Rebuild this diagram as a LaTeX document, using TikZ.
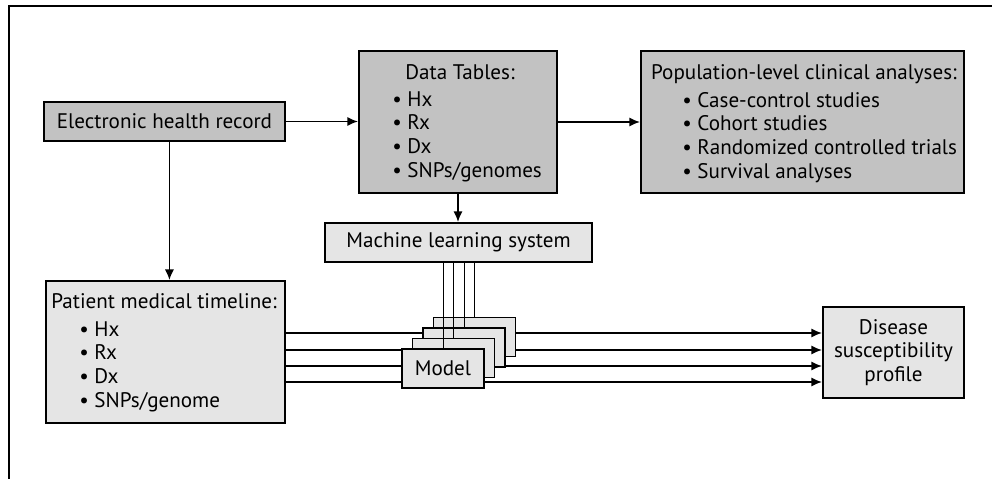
\documentclass[tikz,border=0pt]{standalone}
\usepackage{fontspec}
\setmainfont{PT Sans}
\usetikzlibrary{arrows.meta,fit}
\definecolor{boxdark}{gray}{0.76}
\definecolor{boxlight}{gray}{0.90}
\tikzset{
	box/.style={draw=black, line width=1.4pt, inner sep=0pt},
	darkbox/.style={box, fill=boxdark},
	lightbox/.style={box, fill=boxlight},
	txt/.style={inner sep=0pt, font=\fontsize{15}{16.8}\selectfont},
	listtxt/.style={txt, align=left},
	arr/.style={line width=1.2pt, -{Latex[length=7.5pt,width=6.5pt]}},
	thinwire/.style={line width=0.7pt}
}
\begin{document}
\begin{tikzpicture}[x=0.025cm,y=-0.025cm]
			%%%%% START %%%%%
			\useasboundingbox (0,0) rectangle (992,479);
			\draw[line width=1pt] (9,479) -- (9,6) -- (992,6);
			
			\node[darkbox, fit={(44,102) (285,141)}] (ehr) {};
			\node[txt] at (ehr) {Electronic health record};
			
			\node[darkbox, fit={(359,51) (557,193)}] (tables) {};
			\node[txt, anchor=base] (tablestitle) at (460,80) {Data Tables:};
			% list nodes sit on the baseline of their last line
			\node[listtxt, anchor=base west] (tableslist) at (392,177) {\textbullet\ Hx\\ \textbullet\ Rx\\ \textbullet\ Dx\\ \textbullet\ SNPs/genomes};
			
			\node[darkbox, fit={(641,51) (964,193)}] (pop) {};
			\node[txt, anchor=base] (poptitle) at (804,79) {Population-level clinical analyses:};
			\node[listtxt, anchor=base west] (poplist) at (682,178) {\textbullet\ Case-control studies\\ \textbullet\ Cohort studies\\ \textbullet\ Randomized controlled trials\\ \textbullet\ Survival analyses};
			
			\node[lightbox, fit={(325,223) (592,262)}] (mls) {};
			\node[txt] at (mls) {Machine learning system};
			
			\node[lightbox, fit={(46,281) (285,423)}] (patient) {};
			\node[txt, anchor=base] (patienttitle) at (164,308) {Patient medical timeline:};
			\node[listtxt, anchor=base west] (patientlist) at (79,407) {\textbullet\ Hx\\ \textbullet\ Rx\\ \textbullet\ Dx\\ \textbullet\ SNPs/genome};
			
			\node[lightbox, fit={(823,307) (964,398)}] (disease) {};
			\node[txt, align=center] at (disease) {Disease\\ susceptibility\\ profile};
			
			% timeline rows into the profile, under the models
			\foreach \y in {333,350,366,382}
				\draw[arr] (patient.east |- 0,\y) -- (disease.west |- 0,\y);
			
			% stack of models, back to front
			\foreach \i in {3,2,1,0}
				\node[lightbox, fit={({402+10.5*\i},{349-10.5*\i}) ({484+10.5*\i},{388-10.5*\i})}] (model\i) {};
			\node[txt] at (model0) {Model};
			\foreach \i in {0,...,3}
				\draw[thinwire] (model\i.north |- mls.south) -- (model\i.north);
			
			\draw[arr] (ehr.east) -- (tables.west |- ehr.east);
			\draw[arr] (tables.east) -- (pop.west |- tables.east);
			\draw[arr] ([xshift=3.5]ehr.south) -- ([xshift=3.5]ehr.south |- patient.north);
			\draw[arr] (tables.south) -- (tables.south |- mls.north);
			%%%%% END %%%%%
\end{tikzpicture}
\end{document}
